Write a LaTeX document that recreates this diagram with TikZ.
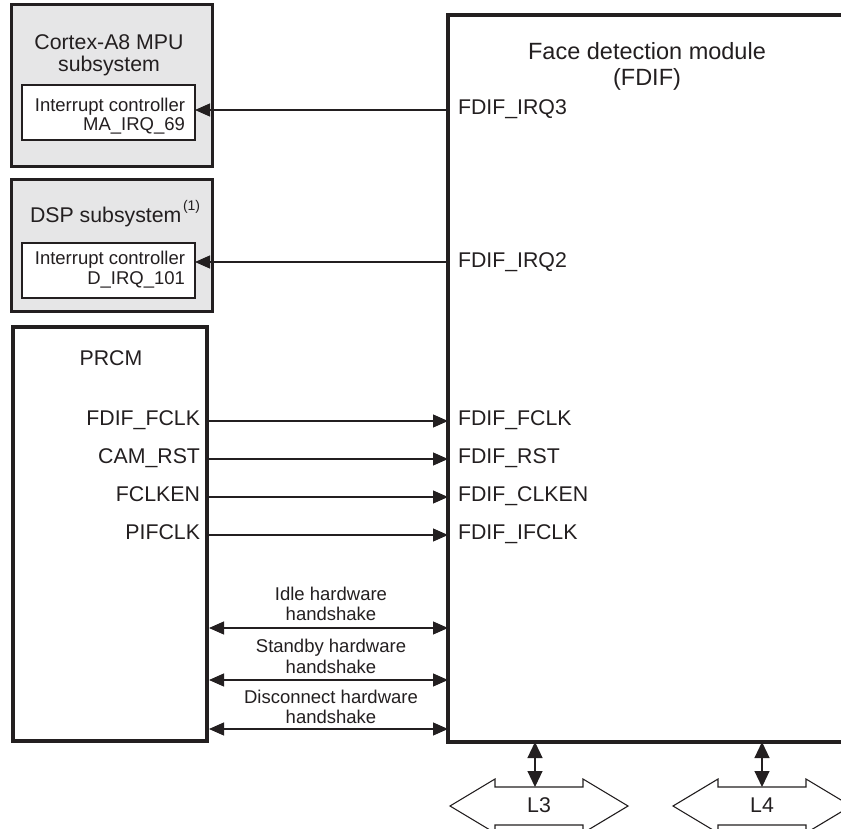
\documentclass[tikz,border=0pt]{standalone}
\usepackage{fontspec}
\setmainfont{Liberation Sans}
\usetikzlibrary{arrows.meta}
\definecolor{ink}{HTML}{231F20}
\definecolor{boxgray}{HTML}{E6E6E7}
\begin{document}
\begin{tikzpicture}[x=1pt,y=-1pt,
  every node/.style={text=ink, inner sep=0pt, outer sep=0pt},
  big/.style={font=\fontsize{21.3}{25}\selectfont},
  title/.style={font=\fontsize{23.5}{28}\selectfont},
  small/.style={font=\fontsize{18.5}{22}\selectfont},
  graybox/.style={draw=ink, fill=boxgray, line width=3pt, rectangle, anchor=north west},
  whitebox/.style={draw=ink, fill=white, line width=3.2pt, rectangle, anchor=north west},
  intbox/.style={draw=ink, fill=white, line width=1.6pt, rectangle, anchor=north west},
  arr/.style={draw=ink, line width=1.2pt, -{Triangle[length=15pt,width=13pt]}},
  darr/.style={draw=ink, line width=1.2pt, {Triangle[length=15pt,width=13pt]}-{Triangle[length=15pt,width=13pt]}},
  varr/.style={draw=ink, line width=1.2pt, {Triangle[length=16pt,width=15pt]}-{Triangle[length=16pt,width=15pt]}},
  bus/.style={draw=ink, line width=1.1pt, fill=white, line join=miter}
]
\useasboundingbox (0,0) rectangle (841,829);
\clip (0,0) rectangle (841,829);
\fill[white] (0,0) rectangle (841,829);

% Boxes
\node[graybox, minimum width=201pt, minimum height=162pt] (cortex) at (11,5) {};
\node[intbox, minimum width=173pt, minimum height=55pt] (int1) at (22,85) {};
\node[graybox, minimum width=201pt, minimum height=131pt] (dsp) at (11,180) {};
\node[intbox, minimum width=173pt, minimum height=55pt] (int2) at (22,243) {};
\node[whitebox, minimum width=194pt, minimum height=414pt] (prcm) at (13,327) {};
\node[draw=ink, fill=white, line width=4pt, rectangle, anchor=north west,
      minimum width=460pt, minimum height=727pt] (fdif) at (448,15) {};

% Cortex texts
\node[big, anchor=base] (ct1) at (109,50) {Cortex-A8 MPU};
\node[big, anchor=base] (ct2) at (109,72) {subsystem};
\node[small, anchor=base east] (it1) at (185,112) {Interrupt controller};
\node[small, anchor=base east] (it2) at (185,131) {MA\_IRQ\_69};

% DSP texts
\node[big, anchor=base west] (dt1) at (30,223) {DSP subsystem\hspace{1.5pt}\raisebox{12pt}{\fontsize{14}{16}\selectfont(1)}};
\node[small, anchor=base east] (it3) at (185,265) {Interrupt controller};
\node[small, anchor=base east] (it4) at (185,284) {D\_IRQ\_101};

% PRCM texts
\node[big, anchor=base] (pt) at (111,365) {PRCM};
\node[big, anchor=base east] (p1) at (200,425.5) {FDIF\_FCLK};
\node[big, anchor=base east] (p2) at (200,463.5) {CAM\_RST};
\node[big, anchor=base east] (p3) at (200,501.5) {FCLKEN};
\node[big, anchor=base east] (p4) at (200,539.5) {PIFCLK};

% FDIF texts
\node[title, anchor=base] (ft1) at (647,60) {Face detection module};
\node[title, anchor=base] (ft2) at (647,86) {(FDIF)};
\node[big, anchor=base west] (f0) at (458,115) {FDIF\_IRQ3};
\node[big, anchor=base west] (f00) at (458,268) {FDIF\_IRQ2};
\node[big, anchor=base west] (f1) at (458,425.5) {FDIF\_FCLK};
\node[big, anchor=base west] (f2) at (458,463.5) {FDIF\_RST};
\node[big, anchor=base west] (f3) at (458,501.5) {FDIF\_CLKEN};
\node[big, anchor=base west] (f4) at (458,539.5) {FDIF\_IFCLK};

% IRQ arrows
\coordinate (irq3) at (448,110);
\coordinate (irq2) at (448,262);
\draw[arr] (irq3) -- (irq3 -| int1.east);
\draw[arr] (irq2) -- (irq2 -| int2.east);

% PRCM -> FDIF arrows
\foreach \y/\n in {421/a, 459/b, 497/c, 535/d} {
  \coordinate (s\n) at (207,\y);
  \draw[arr] (s\n) -- (s\n -| fdif.west);
}

% Handshakes
\node[small, anchor=base] (h1a) at (331,600) {Idle hardware};
\node[small, anchor=base] (h1b) at (331,620) {handshake};
\node[small, anchor=base] (h2a) at (331,652) {Standby hardware};
\node[small, anchor=base] (h2b) at (331,673) {handshake};
\node[small, anchor=base] (h3a) at (331,703) {Disconnect hardware};
\node[small, anchor=base] (h3b) at (331,723) {handshake};
\foreach \y/\n in {628/a, 680/b, 729/c} {
  \coordinate (hs\n) at (209,\y);
  \draw[darr] (hs\n) -- (hs\n -| fdif.west);
}

% Buses
\draw[bus] (450,806) -- (495,779) -- (495,787) -- (583,787) -- (583,779) -- (628,806)
  -- (583,833) -- (583,825) -- (495,825) -- (495,833) -- cycle;
\draw[bus] (673,806) -- (718,779) -- (718,787) -- (806,787) -- (806,779) -- (851,806)
  -- (806,833) -- (806,825) -- (718,825) -- (718,833) -- cycle;
\node[big, anchor=base] (l3) at (539,812) {L3};
\node[big, anchor=base] (l4) at (762,812) {L4};
\coordinate (b3) at (535,787);
\coordinate (b4) at (762,787);
\draw[varr] (b3 |- fdif.south) -- (b3);
\draw[varr] (b4 |- fdif.south) -- (b4);
\end{tikzpicture}
\end{document}
